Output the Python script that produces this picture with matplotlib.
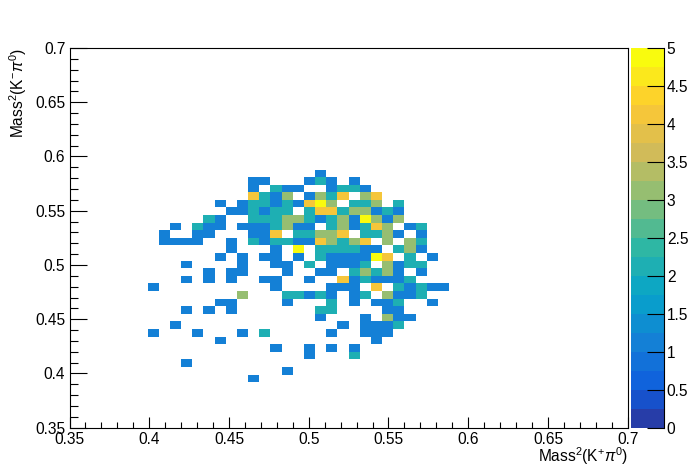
import numpy as np
import matplotlib
matplotlib.use("Agg")
import matplotlib.pyplot as plt
from matplotlib.colors import ListedColormap, BoundaryNorm, LinearSegmentedColormap
from matplotlib.ticker import MultipleLocator, FuncFormatter

plt.rcParams['font.family'] = ['Liberation Sans', 'DejaVu Sans']
plt.rcParams['mathtext.fontset'] = 'custom'
plt.rcParams['mathtext.rm'] = 'Liberation Sans'
plt.rcParams['mathtext.it'] = 'Liberation Sans:italic'
plt.rcParams['mathtext.sf'] = 'Liberation Sans'

# ---- data: 50x50 histogram, 0.35..0.70 on both axes ----
x_range = (0.35, 0.70)
y_range = (0.35, 0.70)
n_bins = 50
first_col = 7      # x-bin index of first character in each row string
top_row = 33       # y-bin index of first row string (rows go downward)
count_rows = [
    "000000000000000100000000000",  # 33
    "000000000110001210100000000",  # 32
    "000000000102110012210000000",  # 31
    "000000000421301324034000000",  # 30
    "000000101221214530223020000",  # 29
    "000000011212202442331210000",  # 28
    "000002100222332123153130000",  # 27
    "001021101112311023124301200",  # 26
    "010011000114022334022310100",  # 25
    "011110010212211432340303200",  # 24
    "000000010001050222211023100",  # 23
    "000000101011010211115402010",  # 22
    "000100001001102011120312200",  # 21
    "000001011000100110232310100",  # 20
    "000101010011001004121112000",  # 19
    "100000000001000011104021211",  # 18
    "000000003000221210120311200",  # 17
    "000000110000100020101120010",  # 16
    "000101010000000220000110000",  # 15
    "000000000000000100010311000",  # 14
    "001000000000000001011120000",  # 13
    "100010001020000010011100000",  # 12
    "000000100000000000001000000",  # 11
    "000000000001001010100000000",  # 10
    "000000000000001000200000000",  # 9
    "000100000000000000000000000",  # 8
    "000000000000100000000000000",  # 7
    "000000000100000000000000000",  # 6
]
z_max = 5
x_label = r"Mass$^{2}$(K$^{+}\pi^{0}$)"
y_label = r"Mass$^{2}$(K$^{-}\pi^{0}$)"

# ---- build the grid ----
H = np.zeros((n_bins, n_bins))
for k, row in enumerate(count_rows):
    j = top_row - k
    for c, ch in enumerate(row):
        H[j, first_col + c] = int(ch)
Hm = np.ma.masked_where(H <= 0, H)
xe = np.linspace(*x_range, n_bins + 1)
ye = np.linspace(*y_range, n_bins + 1)

# ROOT kBird palette, 20 contour levels
stops = [0.0, 0.125, 0.25, 0.375, 0.5, 0.625, 0.75, 0.875, 1.0]
red = [0.2082, 0.0592, 0.0780, 0.0232, 0.1802, 0.5301, 0.8186, 0.9956, 0.9764]
green = [0.1664, 0.3599, 0.5041, 0.6419, 0.7178, 0.7492, 0.7328, 0.7862, 0.9832]
blue = [0.5293, 0.8684, 0.8385, 0.7914, 0.6425, 0.4662, 0.3499, 0.1968, 0.0539]
bird = LinearSegmentedColormap.from_list(
    "bird", list(zip(stops, zip(red, green, blue))), N=255)
n_lev = 20
level_cols = [bird(min((k + 0.99) / n_lev, 1.0)) for k in range(n_lev)]
cmap = ListedColormap(level_cols)
bounds = np.linspace(0, z_max, n_lev + 1)
norm = BoundaryNorm(bounds, n_lev, clip=True)

W, Hpx = 698, 476
fig = plt.figure(figsize=(W / 100, Hpx / 100), dpi=100)
L, R, T, B = 69.5, 627.7, 48.0, 427.7
ax = fig.add_axes([L / W, (Hpx - B) / Hpx, (R - L) / W, (B - T) / Hpx])
mesh = ax.pcolormesh(xe, ye, Hm, cmap=cmap, norm=norm)
ax.set_xlim(*x_range)
ax.set_ylim(*y_range)

fs = 11.2
fmt = FuncFormatter(lambda v, p: f"{v:g}")
ax.xaxis.set_major_locator(MultipleLocator(0.05))
ax.xaxis.set_minor_locator(MultipleLocator(0.01))
ax.yaxis.set_major_locator(MultipleLocator(0.05))
ax.yaxis.set_minor_locator(MultipleLocator(0.01))
ax.xaxis.set_major_formatter(fmt)
ax.yaxis.set_major_formatter(fmt)
ax.tick_params(axis='x', which='major', direction='in', length=8.2, width=0.8,
               labelsize=fs, pad=3, top=False)
ax.tick_params(axis='x', which='minor', direction='in', length=4.1, width=0.8, top=False)
ax.tick_params(axis='y', which='major', direction='in', length=12, width=0.8,
               labelsize=fs, pad=3, right=False)
ax.tick_params(axis='y', which='minor', direction='in', length=6, width=0.8, right=False)
for s in ax.spines.values():
    s.set_linewidth(0.8)

fig.text(R / W, 1 - 456 / Hpx, x_label, ha='right', va='center', fontsize=fs)
fig.text(18 / W, 1 - T / Hpx, y_label, ha='center', va='top', rotation=90, fontsize=fs)

# palette axis
cax = fig.add_axes([631 / W, (Hpx - B) / Hpx, 33 / W, (B - T) / Hpx])
cb = fig.colorbar(mesh, cax=cax, boundaries=bounds, ticks=np.arange(0, z_max + 0.01, 0.5))
cb.outline.set_visible(False)
cb.ax.yaxis.set_major_formatter(fmt)
cb.ax.minorticks_off()
cb.ax.tick_params(axis='y', which='major', direction='in', length=12, width=0.8,
                  labelsize=fs, pad=2, right=True, left=False, color='black')
cax.plot([1, 1], [0, 1], transform=cax.transAxes, color='black', lw=0.8, clip_on=False)

fig.savefig("out.png", dpi=100)
